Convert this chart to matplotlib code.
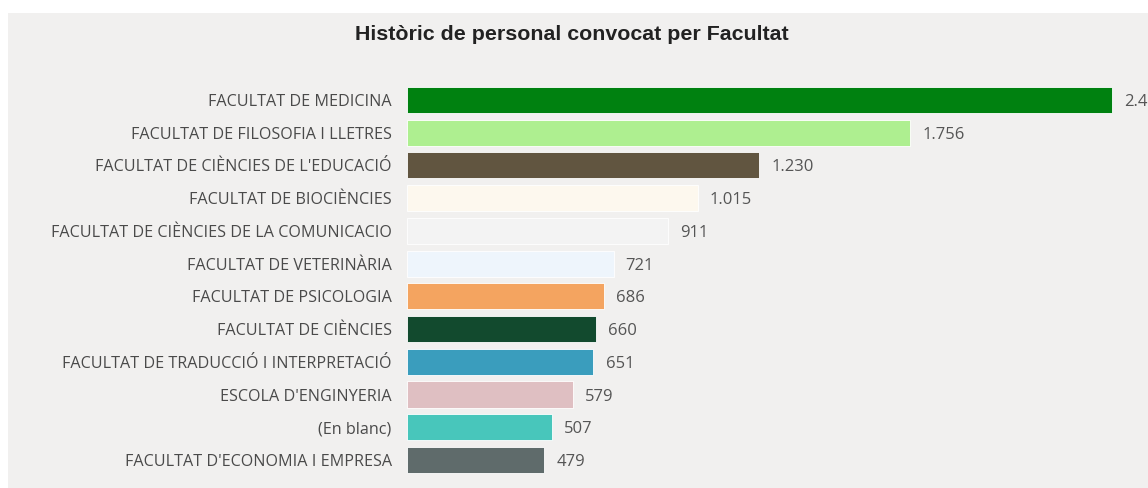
import matplotlib.pyplot as plt
from matplotlib.patches import Rectangle

facultats = [
    "FACULTAT DE MEDICINA",
    "FACULTAT DE FILOSOFIA I LLETRES",
    "FACULTAT DE CIÈNCIES DE L'EDUCACIÓ",
    "FACULTAT DE BIOCIÈNCIES",
    "FACULTAT DE CIÈNCIES DE LA COMUNICACIO",
    "FACULTAT DE VETERINÀRIA",
    "FACULTAT DE PSICOLOGIA",
    "FACULTAT DE CIÈNCIES",
    "FACULTAT DE TRADUCCIÓ I INTERPRETACIÓ",
    "ESCOLA D'ENGINYERIA",
    "(En blanc)",
    "FACULTAT D'ECONOMIA I EMPRESA",
]
personal = [2461, 1756, 1230, 1015, 911, 721, 686, 660, 651, 579, 507, 479]
colors = ["#008110", "#aeef90", "#615540", "#fdf8ee", "#f3f3f3", "#eef5fc",
          "#f4a460", "#124a2e", "#3a9dbd", "#dfbfc2", "#48c6bb", "#5f6b6b"]

plt.rcParams['font.family'] = ['Open Sans', 'DejaVu Sans']

fig = plt.figure(figsize=(11.48, 4.88), dpi=100)
fig.patch.set_facecolor("white")
fig.patches.append(Rectangle((8 / 1148, 0), 1, 1 - 13 / 488, transform=fig.transFigure,
                             facecolor="#f1f0ef", edgecolor="none", zorder=-10))

ax = fig.add_axes([407 / 1148, 0.0238, 1 - 407 / 1148, 0.805])
ax.set_facecolor("none")
ax.set_zorder(1)

y = list(range(len(facultats)))
bars = ax.barh(y, personal, height=0.8, color=colors, edgecolor="white", linewidth=0.6)
ax.set_ylim(len(facultats) - 0.5, -0.5)
ax.set_xlim(0, 2461 * 741 / 705)

for yi, v in zip(y, personal):
    txt = f"{v:,}".replace(",", ".")
    ax.text(v + 42, yi, txt, va="center_baseline", ha="left", fontsize=12,
            color="#555555", clip_on=False)

ax.set_yticks(y)
ax.set_yticklabels(facultats, fontsize=11.6, color="#4a4a4a", va="center_baseline")
ax.tick_params(axis="y", length=0, pad=11)
ax.set_xticks([])
for s in ax.spines.values():
    s.set_visible(False)

fig.text(572 / 1148, 1 - 35 / 488, "Històric de personal convocat per Facultat",
         ha="center", va="center", fontsize=15.4, fontweight="bold",
         family=["Liberation Sans", "DejaVu Sans"], color="#222222")

fig.savefig("out.png", dpi=100)
